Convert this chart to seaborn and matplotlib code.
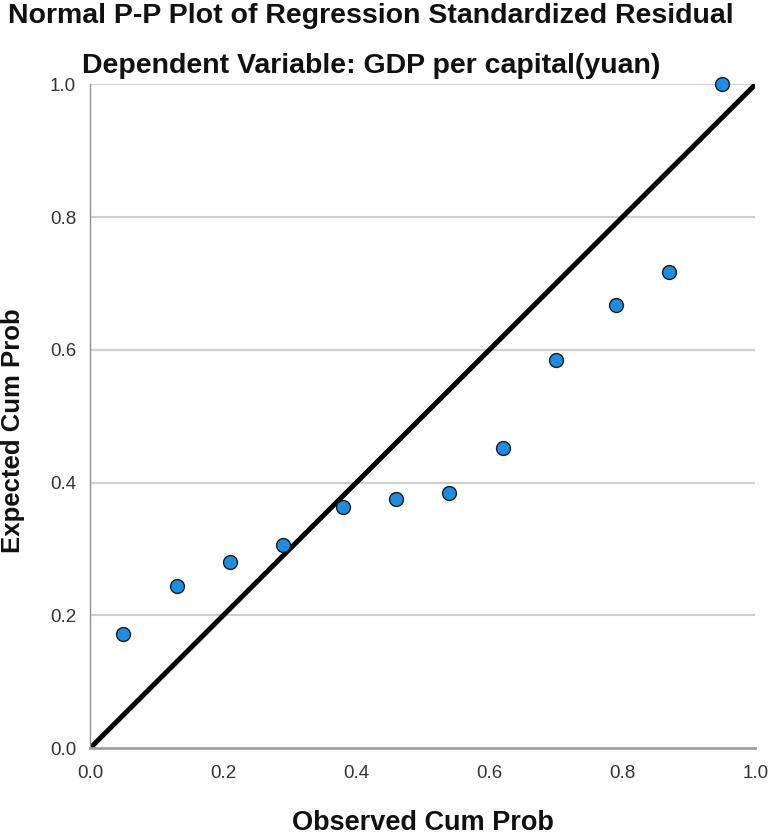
import numpy as np
import pandas as pd
import seaborn as sns
import matplotlib.pyplot as plt

# observed vs expected cumulative probabilities
observed = [0.05, 0.13, 0.21, 0.29, 0.38, 0.46, 0.54, 0.62, 0.70, 0.79, 0.87, 0.95]
expected = [0.172, 0.244, 0.281, 0.306, 0.364, 0.376, 0.385, 0.452, 0.585, 0.668, 0.718, 1.0]
ticks = [0.0, 0.2, 0.4, 0.6, 0.8, 1.0]
tick_labels = ["0.0", "0.2", "0.4", "0.6", "0.8", "1.0"]

df = pd.DataFrame({"observed": observed, "expected": expected})

sns.set_style("white")
plt.rcParams['font.family'] = ['Liberation Sans', 'DejaVu Sans']
plt.rcParams['text.color'] = '#111111'
plt.rcParams['axes.labelcolor'] = '#111111'

fig = plt.figure(figsize=(7.7, 8.36), dpi=100)
ax = fig.add_axes([0.117, 0.105, 0.864, 0.794])

# horizontal grid lines
for t in ticks[1:]:
    ax.axhline(t, color="#cfcfcf", lw=1.5, zorder=0)

# reference diagonal
ax.plot([0, 1], [0, 1], color="black", lw=3.6, zorder=2, solid_capstyle="butt")

sns.scatterplot(data=df, x="observed", y="expected", ax=ax, s=100,
                color="#1f8ce0", edgecolor="#1a1a1a", linewidth=1.0,
                zorder=3, clip_on=False)

ax.set_xlim(0, 1)
ax.set_ylim(0, 1)
ax.set_xticks(ticks)
ax.set_xticklabels(tick_labels)
ax.set_yticks(ticks)
ax.set_yticklabels(tick_labels)
ax.tick_params(axis="both", length=0, labelsize=13.5, labelcolor="#333333")
ax.tick_params(axis="x", pad=12)
ax.tick_params(axis="y", pad=10)

for s in ["top", "right"]:
    ax.spines[s].set_visible(False)
ax.spines["left"].set_color("#909090")
ax.spines["left"].set_linewidth(1.0)
ax.spines["bottom"].set_color("#a0a0a0")
ax.spines["bottom"].set_linewidth(2.0)

ax.set_xlabel("Observed Cum Prob", fontsize=19.5, fontweight="bold", labelpad=20)
ax.set_ylabel("Expected Cum Prob", fontsize=18.5, fontweight="bold")
ax.yaxis.set_label_coords(-0.098, 0.478)

fig.text(0.482, 0.981, "Normal P-P Plot of Regression Standardized Residual",
         ha="center", va="center", fontsize=20.5, fontweight="bold")
fig.text(0.482, 0.921, "Dependent Variable: GDP per capital(yuan)",
         ha="center", va="center", fontsize=20.5, fontweight="bold")

fig.savefig("out.png", dpi=100)
